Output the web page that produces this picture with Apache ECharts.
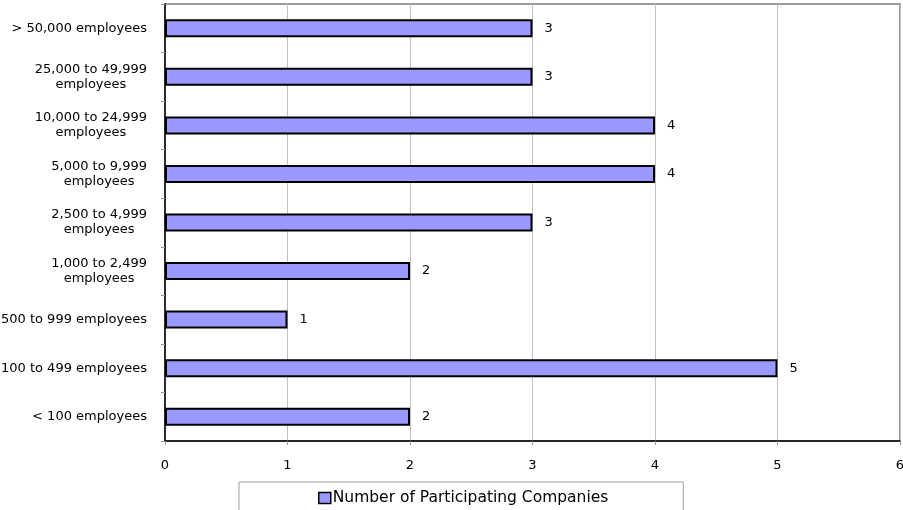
<!DOCTYPE html>
<html>
<head>
<meta charset="utf-8">
<script src="https://cdn.jsdelivr.net/npm/echarts@6/dist/echarts.min.js"></script>
<style>
  html, body { margin: 0; padding: 0; background: #fff; }
  #chart { width: 903px; height: 510px; }
</style>
</head>
<body>
<div id="chart"></div>
<script>
// Company size bands, listed bottom to top
const categories = [
  '< 100 employees',
  '100 to 499 employees',
  '500 to 999 employees',
  '1,000 to 2,499\nemployees',
  '2,500 to 4,999\nemployees',
  '5,000 to 9,999\nemployees',
  '10,000 to 24,999\nemployees',
  '25,000 to 49,999\nemployees',
  '> 50,000 employees'
];
const companies = [2, 5, 1, 2, 3, 4, 4, 3, 3];
const seriesName = 'Number of Participating Companies';
const valueTicks = [0, 1, 2, 3, 4, 5, 6];

const font = 'DejaVu Sans, Verdana, sans-serif';
const chart = echarts.init(document.getElementById('chart'), null, { renderer: 'canvas' });

chart.setOption({
  animation: false,
  backgroundColor: '#fff',
  grid: {
    left: 165, right: 3, top: 4, bottom: 69,
    outerBoundsMode: 'none',
    containLabel: false,
    show: true, borderColor: '#9a9a9a', borderWidth: 2
  },
  legend: {
    data: [seriesName],
    left: 239, top: 482,
    padding: [8, 75, 12, 79],
    borderColor: '#a0a0a0', borderWidth: 1,
    itemWidth: 12, itemHeight: 11, itemGap: 0,
    icon: 'rect',
    itemStyle: { color: '#9999ff', borderColor: '#000', borderWidth: 1.5 },
    textStyle: { fontFamily: font, fontSize: 15.5, color: '#000', padding: [0, 0, 0, -3] }
  },
  xAxis: {
    type: 'value',
    min: valueTicks[0], max: valueTicks[valueTicks.length - 1], interval: 1,
    axisLine: { show: true, lineStyle: { color: '#000', width: 1.5 } },
    axisTick: { show: true, length: 4, lineStyle: { color: '#999' } },
    splitLine: { show: true, lineStyle: { color: '#c0c0c0', width: 1 } },
    axisLabel: { fontFamily: font, fontSize: 13, color: '#000', margin: 18 }
  },
  yAxis: {
    type: 'category',
    data: categories,
    axisLine: { show: true, lineStyle: { color: '#000', width: 1.5 } },
    axisTick: { show: true, length: 4, alignWithLabel: false, lineStyle: { color: '#999' } },
    axisLabel: {
      fontFamily: font, fontSize: 13, color: '#000', margin: 18, lineHeight: 15,
      formatter: v => v.split('\n').map(s => '{c|' + s + '}').join('\n'),
      rich: { c: { align: 'center', fontFamily: font, fontSize: 13, color: '#000', lineHeight: 15 } }
    }
  },
  series: [{
    name: seriesName,
    type: 'bar',
    data: companies,
    barWidth: 18,
    itemStyle: { color: '#9999ff', borderColor: '#000', borderWidth: 2 },
    label: {
      show: true, position: 'right', distance: 12,
      fontFamily: font, fontSize: 13, color: '#000'
    }
  }]
});
</script>
</body>
</html>
